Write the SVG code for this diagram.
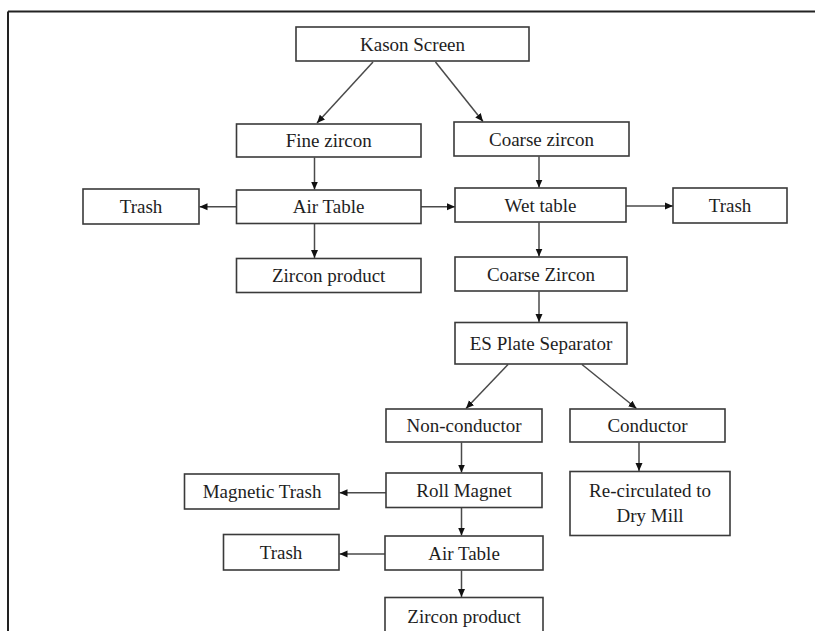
<svg xmlns="http://www.w3.org/2000/svg" width="815" height="631" viewBox="0 0 815 631">
<style>
.box{fill:#fff;stroke:#3a3a3a;stroke-width:1.6}
.t{font-family:"Liberation Serif","Times New Roman",serif;font-size:19px;fill:#1e1e1e;text-anchor:middle}
.c{stroke:#4a4a4a;stroke-width:1.5;fill:none;marker-end:url(#ah)}
</style>
<defs>
<marker id="ah" markerUnits="userSpaceOnUse" markerWidth="9" markerHeight="8" refX="8" refY="4" orient="auto">
<path d="M0,0.5 L8,4 L0,7.5 Z" fill="#111"/>
</marker>
</defs>
<rect width="815" height="631" fill="#fff"/>
<g id="frame">
<line x1="8" y1="11.5" x2="815" y2="11.5" stroke="#222" stroke-width="2"/>
<line x1="8" y1="11.5" x2="8" y2="631" stroke="#222" stroke-width="2"/>
</g>
<g id="connectors">
<line class="c" x1="373" y1="62" x2="317" y2="123"/>
<line class="c" x1="435.5" y1="62" x2="483" y2="121.5"/>
<line class="c" x1="314.5" y1="157.5" x2="314.5" y2="189.5"/>
<line class="c" x1="539" y1="156.5" x2="539" y2="187.5"/>
<line class="c" x1="236.5" y1="206.7" x2="199.5" y2="206.7"/>
<line class="c" x1="421" y1="206.7" x2="455" y2="206.7"/>
<line class="c" x1="626" y1="206" x2="673" y2="206"/>
<line class="c" x1="314.5" y1="224" x2="314.5" y2="258"/>
<line class="c" x1="539" y1="222.5" x2="539" y2="256.5"/>
<line class="c" x1="539" y1="291.5" x2="539" y2="322"/>
<line class="c" x1="508" y1="364.5" x2="466" y2="408.5"/>
<line class="c" x1="582" y1="364.5" x2="636.5" y2="408.5"/>
<line class="c" x1="461.5" y1="442.5" x2="461.5" y2="472.5"/>
<line class="c" x1="639" y1="442.5" x2="639" y2="471"/>
<line class="c" x1="386" y1="492.7" x2="339.5" y2="492.7"/>
<line class="c" x1="461.5" y1="508" x2="461.5" y2="535.5"/>
<line class="c" x1="385" y1="554" x2="339.5" y2="554"/>
<line class="c" x1="461.5" y1="570.5" x2="461.5" y2="597"/>
</g>
<g id="kason"><rect class="box" x="296" y="27" width="233" height="34"/><text class="t" x="412.5" y="51">Kason Screen</text></g>
<g id="fine-zircon"><rect class="box" x="236.5" y="124" width="184.5" height="33"/><text class="t" x="328.7" y="147">Fine zircon</text></g>
<g id="coarse-zircon"><rect class="box" x="454" y="122" width="175" height="34"/><text class="t" x="541.5" y="145.5">Coarse zircon</text></g>
<g id="trash-1"><rect class="box" x="83" y="189" width="116" height="35"/><text class="t" x="141" y="213">Trash</text></g>
<g id="air-table-1"><rect class="box" x="236.5" y="190" width="184.5" height="33.5"/><text class="t" x="328.7" y="213">Air Table</text></g>
<g id="wet-table"><rect class="box" x="455" y="188" width="171" height="34"/><text class="t" x="540.5" y="211.5">Wet table</text></g>
<g id="trash-2"><rect class="box" x="673" y="188" width="114" height="35"/><text class="t" x="730" y="212">Trash</text></g>
<g id="zircon-product-1"><rect class="box" x="236.5" y="258.5" width="184.5" height="34"/><text class="t" x="328.7" y="282">Zircon product</text></g>
<g id="coarse-zircon-2"><rect class="box" x="455" y="257" width="172" height="34"/><text class="t" x="541" y="280.5">Coarse Zircon</text></g>
<g id="es-plate"><rect class="box" x="455" y="322.5" width="172" height="41.5"/><text class="t" x="541" y="349.5">ES Plate Separator</text></g>
<g id="non-conductor"><rect class="box" x="386" y="409" width="156" height="33"/><text class="t" x="464" y="432">Non-conductor</text></g>
<g id="conductor"><rect class="box" x="570" y="409" width="155" height="33"/><text class="t" x="647.5" y="432">Conductor</text></g>
<g id="roll-magnet"><rect class="box" x="386" y="473" width="156" height="34.5"/><text class="t" x="464" y="496.5">Roll Magnet</text></g>
<g id="magnetic-trash"><rect class="box" x="184.5" y="474" width="154.5" height="35"/><text class="t" x="262" y="498">Magnetic Trash</text></g>
<g id="recirculated"><rect class="box" x="570" y="471.5" width="160" height="64"/><text class="t" x="650" y="496.7">Re-circulated to</text><text class="t" x="650" y="521.7">Dry Mill</text></g>
<g id="air-table-2"><rect class="box" x="385" y="536" width="158" height="34"/><text class="t" x="464" y="559.5">Air Table</text></g>
<g id="trash-3"><rect class="box" x="223.5" y="534.5" width="115.5" height="35.5"/><text class="t" x="281" y="558.5">Trash</text></g>
<g id="zircon-product-2"><rect class="box" x="385" y="597.5" width="158" height="40"/><text class="t" x="464" y="622.5">Zircon product</text></g>
</svg>
